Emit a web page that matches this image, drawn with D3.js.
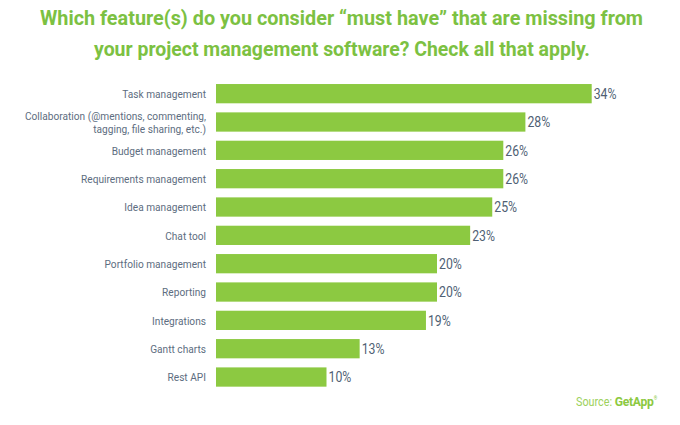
<!DOCTYPE html>
<html>
<head>
<meta charset="utf-8">
<script src="https://cdn.jsdelivr.net/npm/d3@7"></script>
<style>
  html, body { margin: 0; padding: 0; background: #fff; }
  svg { display: block; }
</style>
</head>
<body>
<div id="chart"></div>
<script>
const categories = [
  ['Task management'],
  ['Collaboration (@mentions, commenting,', 'tagging, file sharing, etc.)'],
  ['Budget management'],
  ['Requirements management'],
  ['Idea management'],
  ['Chat tool'],
  ['Portfolio management'],
  ['Reporting'],
  ['Integrations'],
  ['Gantt charts'],
  ['Rest API']
]
const values = [34, 28, 26, 26, 25, 23, 20, 20, 19, 13, 10]
const titleLines = [
  'Which feature(s) do you consider \u201cmust have\u201d that are missing from',
  'your project management software? Check all that apply.'
]

const COLORS = {
  title: '#7cc142',
  bar: '#8cc941',
  label: '#5d6d80',
  value: '#4f5f74',
  source: '#8cc941'
}

const W = 680
const H = 425
// l'image d'origine est un peu écrasée horizontalement
const SQUEEZE = 0.86

const svg = d3.select('#chart')
  .append('svg')
  .attr('width', W)
  .attr('height', H)
  .style('font-family', 'Roboto, sans-serif')

// titre
const titleWidths = [603, 496]
const titleX = [40, 94]
svg.selectAll('.title')
  .data(titleLines)
  .enter()
  .append('text')
  .attr('class', 'title')
  .attr('x', (d, i) => titleX[i])
  .attr('y', (d, i) => 25 + i * 30.5)
  .attr('textLength', (d, i) => titleWidths[i])
  .attr('lengthAdjust', 'spacingAndGlyphs')
  .style('font-size', '21px')
  .style('font-weight', '700')
  .style('fill', COLORS.title)
  .text((d) => d)

const x = d3.scaleLinear()
  .domain([0, 34])
  .range([216, 591.7])

const y = d3.scaleBand()
  .domain(d3.range(categories.length))
  .range([79.5, 391.2])
  .paddingInner(0.32)
  .paddingOuter(0.16)

const rows = svg.selectAll('.row')
  .data(values)
  .enter()
  .append('g')
  .attr('class', 'row')

rows.append('rect')
  .attr('x', x(0))
  .attr('y', (d, i) => y(i))
  .attr('width', (d) => x(d) - x(0))
  .attr('height', y.bandwidth())
  .attr('fill', COLORS.bar)

rows.append('text')
  .attr('x', (d) => x(d) + 2)
  .attr('y', (d, i) => y(i) + y.bandwidth() / 2)
  .attr('dy', '0.36em')
  .attr('transform-origin', (d, i) => `${x(d) + 2} ${y(i) + y.bandwidth() / 2}`)
  .attr('transform', 'scale(0.82,1)')
  .style('font-size', '15px')
  .style('fill', COLORS.value)
  .text((d) => d + '%')

// libellés
const labelX = 206
const labels = svg.selectAll('.label')
  .data(categories)
  .enter()
  .append('text')
  .attr('class', 'label')
  .attr('text-anchor', 'end')
  .attr('x', labelX)
  .attr('y', (d, i) => y(i) + y.bandwidth() / 2)
  .attr('transform-origin', (d, i) => `${labelX} ${y(i) + y.bandwidth() / 2}`)
  .attr('transform', `scale(${SQUEEZE},1)`)
  .style('font-size', '11.8px')
  .style('fill', COLORS.label)

labels.selectAll('tspan')
  .data((d) => d.map((line, j) => ({ line, j, n: d.length })))
  .enter()
  .append('tspan')
  .attr('x', labelX)
  .attr('dy', (t) => (t.j === 0 ? (0.36 - (t.n - 1) * 0.57) + 'em' : '1.14em'))
  .text((t) => t.line)

// source
const source = svg.append('text')
  .attr('x', 576)
  .attr('y', 406)
  .attr('transform-origin', '576 406')
  .attr('transform', 'scale(0.9,1)')
  .style('fill', COLORS.source)
source.append('tspan')
  .style('font-size', '12px')
  .style('opacity', 0.85)
  .text('Source: ')
source.append('tspan')
  .style('font-size', '13.5px')
  .style('font-weight', '700')
  .style('letter-spacing', '-0.3px')
  .text('GetApp')
source.append('tspan')
  .attr('dy', -6)
  .style('font-size', '5px')
  .text('\u00ae')
</script>
</body>
</html>
